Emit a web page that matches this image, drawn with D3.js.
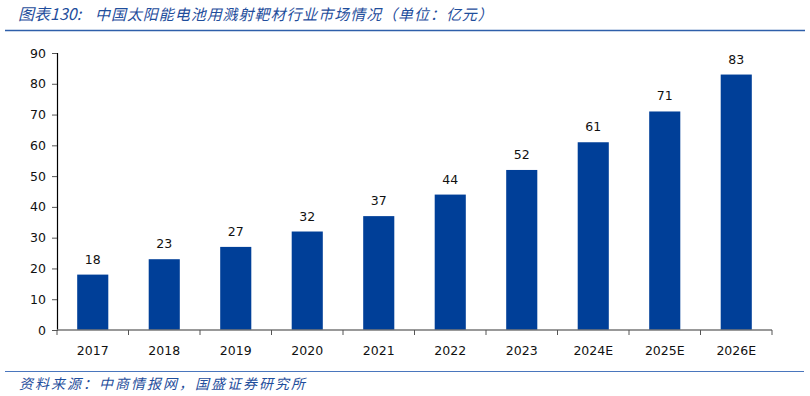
<!DOCTYPE html>
<html>
<head>
<meta charset="utf-8">
<script src="https://cdn.jsdelivr.net/npm/d3@7"></script>
<style>
  body { margin: 0; background: #fff; }
  svg { display: block; }
</style>
</head>
<body>
<div id="chart"></div>
<script>
var years = ["2017", "2018", "2019", "2020", "2021", "2022", "2023", "2024E", "2025E", "2026E"];
var market = [18, 23, 27, 32, 37, 44, 52, 61, 71, 83];
var yTicks = [0, 10, 20, 30, 40, 50, 60, 70, 80, 90];
var titleNo = "图表130:";
var title = "中国太阳能电池用溅射靶材行业市场情况（单位：亿元）";
var source = "资料来源：中商情报网，国盛证券研究所";

var width = 810, height = 396;
var margin = {top: 53, right: 38, bottom: 66, left: 57};

var svg = d3.select("#chart")
    .append("svg")
    .attr("width", width)
    .attr("height", height);

// header / footer
var head = svg.append("text")
    .attr("y", 20)
    .style("font", "italic 15px 'Noto Sans CJK SC', sans-serif")
    .attr("fill", "#1f4e9c");
head.append("tspan")
    .attr("x", 18)
    .style("font-size", "16px")
    .text(titleNo);
head.append("tspan")
    .attr("x", 95)
    .style("letter-spacing", "0.95px")
    .text(title);

svg.append("line")
    .attr("x1", 5).attr("x2", 805)
    .attr("y1", 30.5).attr("y2", 30.5)
    .attr("stroke", "#2e5faa")
    .attr("stroke-width", 1.5);

svg.append("line")
    .attr("x1", 5).attr("x2", 804)
    .attr("y1", 371.5).attr("y2", 371.5)
    .attr("stroke", "#4a76bd")
    .attr("stroke-width", 1);

svg.append("text")
    .attr("x", 19)
    .attr("y", 389)
    .style("font", "italic 14px 'Noto Sans CJK SC', sans-serif")
    .style("letter-spacing", "2px")
    .attr("fill", "#1f4e9c")
    .text(source);

var x = d3.scaleBand()
    .domain(years)
    .range([margin.left, width - margin.right])
    .paddingInner(0.565)
    .paddingOuter(0.2825);

var y = d3.scaleLinear()
    .domain([0, 90])
    .range([height - margin.bottom, margin.top]);

// bars
svg.append("g")
    .selectAll("rect")
    .data(market)
    .enter().append("rect")
    .attr("x", (d, i) => x(years[i]))
    .attr("y", d => y(d))
    .attr("width", x.bandwidth())
    .attr("height", d => y(0) - y(d))
    .attr("fill", "#003f98");

svg.append("g")
    .selectAll("text")
    .data(market)
    .enter().append("text")
    .attr("x", (d, i) => x(years[i]) + x.bandwidth() / 2)
    .attr("y", d => y(d) - 11)
    .attr("text-anchor", "middle")
    .style("font", "12.5px 'DejaVu Sans', sans-serif")
    .attr("fill", "#111")
    .text(d => d);

// y axis
var yAxis = svg.append("g")
    .attr("transform", "translate(" + margin.left + ",0)")
    .call(d3.axisLeft(y).tickValues(yTicks).tickSize(5).tickPadding(6));
yAxis.select(".domain").attr("stroke", "#000").attr("stroke-width", 1.2);
yAxis.selectAll(".tick line").attr("stroke", "#555");
yAxis.selectAll("text")
    .style("font", "12.5px 'DejaVu Sans', sans-serif")
    .attr("fill", "#111");

// x axis with ticks between categories
var xAxis = svg.append("g")
    .attr("transform", "translate(0," + y(0) + ")");
xAxis.append("line")
    .attr("x1", margin.left).attr("x2", width - margin.right)
    .attr("stroke", "#777").attr("stroke-width", 1.5);
var step = x.step();
xAxis.selectAll("line.tk")
    .data(d3.range(years.length + 1))
    .enter().append("line")
    .attr("class", "tk")
    .attr("x1", i => margin.left + i * step)
    .attr("x2", i => margin.left + i * step)
    .attr("y1", 0).attr("y2", 5)
    .attr("stroke", "#555");
xAxis.selectAll("text")
    .data(years)
    .enter().append("text")
    .attr("x", d => x(d) + x.bandwidth() / 2)
    .attr("y", 25)
    .attr("text-anchor", "middle")
    .style("font", "12.5px 'DejaVu Sans', sans-serif")
    .attr("fill", "#111")
    .text(d => d);
</script>
</body>
</html>
